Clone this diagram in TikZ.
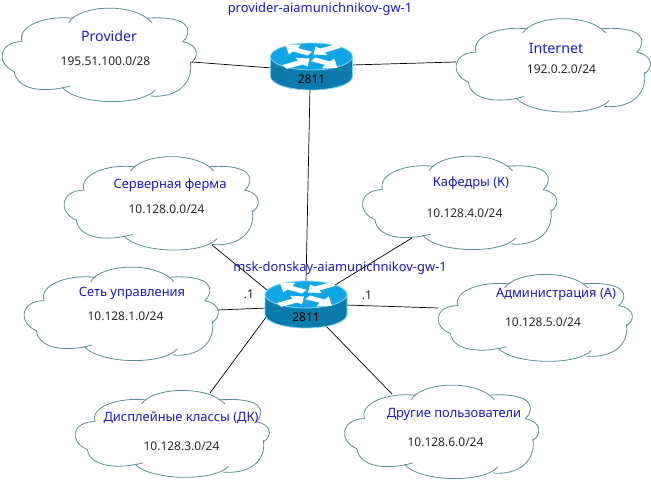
\documentclass[tikz,border=0pt]{standalone}
\usepackage{fontspec}
\setmainfont{Noto Sans}
\usetikzlibrary{calc}
\definecolor{cloudline}{HTML}{5F8A90}
\definecolor{titleblue}{HTML}{1A1AC8}
\definecolor{routertop}{HTML}{10A6E6}
\definecolor{routerside}{HTML}{0A7BAB}
\definecolor{routerrim}{HTML}{7FD4F2}
\tikzset{
	link/.style={black, line width=0.7pt},
	cloudstroke/.style={cloudline, line width=0.8pt},
	nettitle/.style={text=titleblue, font=\fontsize{12.9}{14}\selectfont, inner sep=0pt},
	bigtitle/.style={nettitle, font=\fontsize{14.2}{15}\selectfont},
	netaddr/.style={text=black!85, font=\fontsize{12}{14}\selectfont, inner sep=0pt},
}
\def\netcloud(#1,#2)[#3]{
	\begin{scope}[shift={(#1,#2)}, xscale=0.3333, yscale=#3*0.3333]
		\draw[cloudstroke] (-91,-97) .. controls (-61,-150) and (104,-160) .. (159,-97);
		\draw[cloudstroke] (142,-110) .. controls (194,-115) and (274,-110) .. (266,-65) .. controls (262,-50) and (258,-45) .. (251,-40);
		\draw[cloudstroke] (251,-40) .. controls (304,-30) and (299,10) .. (274,25);
		\draw[cloudstroke] (274,20) .. controls (284,85) and (234,130) .. (154,123);
		\draw[cloudstroke] (169,105) .. controls (124,155) and (-66,150) .. (-111,97);
		\draw[cloudstroke] (-86,93) .. controls (-166,115) and (-246,105) .. (-254,50);
		\draw[cloudstroke] (-254,50) .. controls (-311,25) and (-301,-40) .. (-231,-40);
		\draw[cloudstroke] (-231,-40) .. controls (-246,-85) and (-166,-120) .. (-76,-110);
	\end{scope}
}
\def\netrouter(#1,#2)#3{
	\begin{scope}[shift={(#1,#2)}]
		\draw[routerrim, fill=routerside, line width=0.8pt] (-41,0) -- (-41,20) .. controls (-41,27.5) and (-22.6,33.5) .. (0,33.5) .. controls (22.6,33.5) and (41,27.5) .. (41,20) -- (41,0) -- cycle;
		\draw[routerrim, fill=routertop, line width=0.8pt] (-41,0) .. controls (-41,-7.5) and (-22.6,-13.5) .. (0,-13.5) .. controls (22.6,-13.5) and (41,-7.5) .. (41,0) .. controls (41,7.5) and (22.6,13.5) .. (0,13.5) .. controls (-22.6,13.5) and (-41,7.5) .. (-41,0) -- cycle;
		\begin{scope}[scale=0.3333]
			\fill[white] (-78,-34) -- (-32,-36) -- (-40,-25) -- (2,-14) -- (-12,-3) -- (-56,-15) -- (-68,-6) -- cycle;
			\fill[white] (78,34) -- (32,36) -- (40,25) -- (-2,14) -- (12,3) -- (56,15) -- (68,6) -- cycle;
			\fill[white] (6,-6) -- (12,-30) -- (26,-24) -- (74,-37) -- (88,-26) -- (40,-12) -- (48,-4) -- cycle;
			\fill[white] (-6,6) -- (-12,30) -- (-26,24) -- (-74,37) -- (-88,26) -- (-40,12) -- (-48,4) -- cycle;
		\end{scope}
		\node[netaddr, text=black] (#3-model) at (0,23) {2811};
	\end{scope}
}

\begin{document}
\begin{tikzpicture}[x=1pt, y=-1pt]
	\useasboundingbox (0,0) rectangle (651,481);
	%%%%% clouds %%%%%
	\netcloud(99,55)[1]
	\netcloud(553,65.5)[1]
	\netcloud(161,203.5)[1]
	\netcloud(459.5,203)[1]
	\netcloud(121,314)[1]
	\netcloud(535,318)[0.93]
	\netcloud(441.5,432)[1]
	\netcloud(172,434)[0.93]

	%%%%% ports %%%%%
	\coordinate (provider-port) at (192,62);
	\coordinate (internet-port) at (456,62);
	\coordinate (server-port) at (212,245);
	\coordinate (kafedry-port) at (412,238);
	\coordinate (control-port) at (218,310);
	\coordinate (admin-port) at (438,308);
	\coordinate (display-port) at (210,393);
	\coordinate (other-port) at (392,394);
	\coordinate (upper-w) at (272,68);
	\coordinate (upper-e) at (351,65);
	\coordinate (upper-s) at (310,88);
	\coordinate (lower-n) at (306,283);
	\coordinate (lower-nw) at (267,290);
	\coordinate (lower-ne) at (335,285);
	\coordinate (lower-w) at (267,308);
	\coordinate (lower-e) at (345,305);
	\coordinate (lower-sw) at (267,316);
	\coordinate (lower-se) at (325,325);

	\foreach \from/\to in {provider-port/upper-w, internet-port/upper-e, upper-s/lower-n,
		server-port/lower-nw, kafedry-port/lower-ne, control-port/lower-w,
		admin-port/lower-e, display-port/lower-sw, other-port/lower-se}
		\draw[link] (\from) -- (\to);

	%%%%% routers %%%%%
	\netrouter(311.5,56.5){upper}
	\netrouter(306,294.5){lower}

	%%%%% labels %%%%%
	\node[nettitle] (upper-name) at (320,9.5) {provider-aiamunichnikov-gw-1};
	\node[nettitle] (lower-name) at (340,268.5) {msk-donskay-aiamunichnikov-gw-1};
	\node[netaddr] (lower-ip-w) at (249,294) {.1};
	\node[netaddr] (lower-ip-e) at (367,295) {.1};

	\node[bigtitle] (provider-name) at (109,36) {Provider};
	\node[netaddr] (provider-net) at (105.5,61) {195.51.100.0/28};
	\node[bigtitle] (internet-name) at (556,49) {Internet};
	\node[netaddr] (internet-net) at (561.5,69) {192.0.2.0/24};
	\node[nettitle] (server-name) at (170,185) {Серверная ферма};
	\node[netaddr] (server-net) at (166.5,209) {10.128.0.0/24};
	\node[nettitle] (kafedry-name) at (471,183.5) {Кафедры (К)};
	\node[netaddr] (kafedry-net) at (464.5,213) {10.128.4.0/24};
	\node[nettitle] (control-name) at (132,293.5) {Сеть управления};
	\node[netaddr] (control-net) at (125.5,316) {10.128.1.0/24};
	\node[nettitle] (admin-name) at (556,294) {Администрация (А)};
	\node[netaddr] (admin-net) at (543,322) {10.128.5.0/24};
	\node[nettitle] (other-name) at (454,414) {Другие пользователи};
	\node[netaddr] (other-net) at (445.5,442) {10.128.6.0/24};
	\node[nettitle] (display-name) at (181,418) {Дисплейные классы (ДК)};
	\node[netaddr] (display-net) at (181.5,446) {10.128.3.0/24};
\end{tikzpicture}
\end{document}
